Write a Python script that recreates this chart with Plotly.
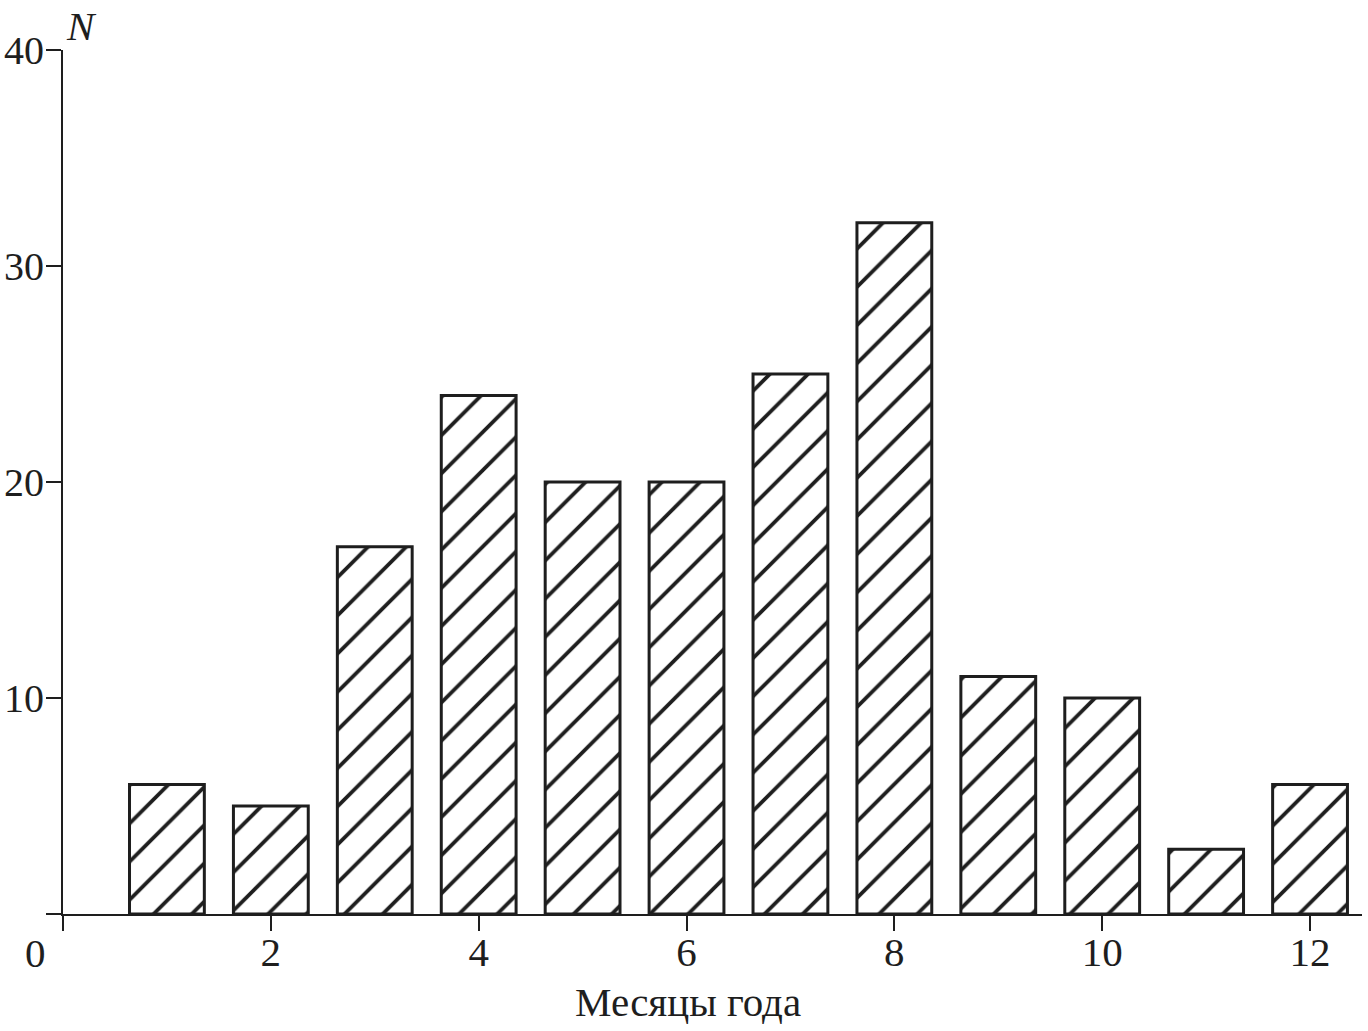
import plotly.graph_objects as go

months = [1, 2, 3, 4, 5, 6, 7, 8, 9, 10, 11, 12]
counts = [6, 5, 17, 24, 20, 20, 25, 32, 11, 10, 3, 6]

x_tickvals = [0, 2, 4, 6, 8, 10, 12]
x_ticktext = ["", "2", "4", "6", "8", "10", "12"]
y_tickvals = [0, 10, 20, 30, 40]
y_ticktext = ["", "10", "20", "30", "40"]

FONT = "Liberation Serif, Times New Roman, serif"
FS = 41
INK = "#1e1e1e"

W, H = 1368, 1031
ML, MT, MR, MB = 63, 50, 6, 117

fig = go.Figure()
fig.add_trace(go.Bar(
    x=months, y=counts, width=0.72,
    marker=dict(
        color="white",
        line=dict(color=INK, width=3),
        pattern=dict(shape="/", fgcolor=INK, bgcolor="white", fgopacity=1,
                     size=27, solidity=0.14),
    ),
))

fig.update_layout(
    width=W, height=H,
    margin=dict(l=ML, r=MR, t=MT, b=MB),
    paper_bgcolor="white", plot_bgcolor="white",
    showlegend=False,
    font=dict(family=FONT, size=FS, color=INK),
    xaxis=dict(
        range=[0, 12.5], tickvals=x_tickvals, ticktext=x_ticktext,
        showgrid=False, zeroline=False, showline=True, linecolor=INK, linewidth=2,
        ticks="outside", ticklen=15, tickwidth=2, tickcolor=INK,
        tickfont=dict(family=FONT, size=FS, color=INK),
        ticklabelstandoff=-14,
        automargin=False,
    ),
    yaxis=dict(
        range=[0, 40], tickvals=y_tickvals, ticktext=y_ticktext,
        showgrid=False, zeroline=False, showline=True, linecolor=INK, linewidth=2,
        ticks="outside", ticklen=15, tickwidth=2, tickcolor=INK,
        tickfont=dict(family=FONT, size=40, color=INK),
        ticklabelstandoff=-6,
        automargin=False,
    ),
)

pw = W - ML - MR
ph = H - MT - MB


def px2paper(px, py):
    return (px - ML) / pw, (H - MB - py) / ph


ann = [
    ("0", 35, 953),
    ("<i>N</i>", 81, 26),
    ("Месяцы года", 688, 1002),
]
for text, px, py in ann:
    ax, ay = px2paper(px, py)
    fig.add_annotation(text=text, x=ax, y=ay, xref="paper", yref="paper",
                       xanchor="center", yanchor="middle", showarrow=False,
                       font=dict(family=FONT, size=FS, color=INK))

fig.write_html(
    "out.html",
    config={"displayModeBar": False},
    post_script="document.body.style.margin='0';document.body.style.overflow='hidden';",
)
